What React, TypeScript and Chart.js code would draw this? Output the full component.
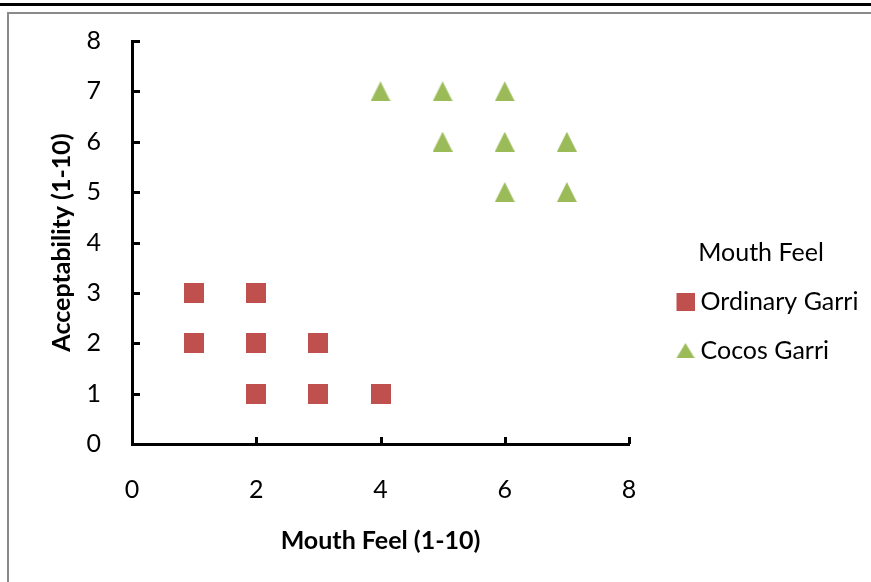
import { useEffect, useRef } from "react";
import { Chart, registerables } from "chart.js";

Chart.register(...registerables);

// Sensory scores (1-10 scale) per sample
const seriesNames = ["Ordinary Garri", "Cocos Garri"];
const ordinaryMouthFeel = [1, 2, 1, 2, 3, 2, 3, 4];
const ordinaryAcceptability = [3, 3, 2, 2, 2, 1, 1, 1];
const cocosMouthFeel = [4, 5, 6, 5, 6, 7, 6, 7];
const cocosAcceptability = [7, 7, 7, 6, 6, 6, 5, 5];

const xRange = [0, 8];
const xStep = 2;
const yRange = [0, 8];
const yStep = 1;

const xTitle = "Mouth Feel (1-10)";
const yTitle = "Acceptability (1-10)";
const legendTitle = "Mouth Feel";

const RED = "#C0504D";
const GREEN = "#9BBB59";
const FONT = "Lato, 'Open Sans', sans-serif";
const FS = 25;
const LEGEND_W = 264;

// Marker sprite: shape drawn inside a canvas, optionally shifted horizontally
function makeMarker(shape: "square" | "triangle", color: string, w: number, h: number, canvasW: number, shiftX: number) {
  const c = document.createElement("canvas");
  c.width = canvasW;
  c.height = h;
  const ctx = c.getContext("2d")!;
  ctx.fillStyle = color;
  const x0 = (canvasW - w) / 2 + shiftX;
  if (shape === "square") {
    ctx.fillRect(x0, 0, w, h);
  } else {
    ctx.beginPath();
    ctx.moveTo(x0 + w / 2, 0);
    ctx.lineTo(x0 + w, h);
    ctx.lineTo(x0, h);
    ctx.closePath();
    ctx.fill();
  }
  return c;
}

const toPoints = (xs: number[], ys: number[]) => xs.map((x, i) => ({ x, y: ys[i] }));

// Short tick marks pointing into the plot area
const inwardTicks = {
  id: "inwardTicks",
  beforeDatasetsDraw(chart: any) {
    const { ctx, chartArea, scales } = chart;
    ctx.save();
    ctx.strokeStyle = "#000";
    ctx.lineWidth = 3;
    ctx.beginPath();
    scales.y.ticks.forEach((t: any) => {
      if (t.value === yRange[0]) return;
      const py = Math.round(scales.y.getPixelForValue(t.value)) + 0.5;
      ctx.moveTo(chartArea.left, py);
      ctx.lineTo(chartArea.left + 8, py);
    });
    scales.x.ticks.forEach((t: any) => {
      if (t.value === xRange[0]) return;
      const px = Math.round(scales.x.getPixelForValue(t.value)) + 0.5;
      ctx.moveTo(px, chartArea.bottom);
      ctx.lineTo(px, chartArea.bottom - 7);
    });
    ctx.stroke();
    ctx.restore();
  },
};

// Fixed legend column width so the title sits centred over the entries
const legendWidth = {
  id: "legendWidth",
  afterInit(chart: any) {
    const lg = chart.legend;
    if (!lg) return;
    const fit = lg.fit.bind(lg);
    lg.fit = () => {
      fit();
      lg.width = LEGEND_W;
    };
  },
};

export default function App() {
  const ref = useRef<HTMLCanvasElement | null>(null);

  useEffect(() => {
    if (!ref.current) return;
    const squareMark = makeMarker("square", RED, 20, 20, 20, 0);
    const triangleMark = makeMarker("triangle", GREEN, 20, 20, 20, 0);
    const legendBox = 35;
    const legendSquare = makeMarker("square", RED, 18, 18, 48, 15);
    const legendTriangle = makeMarker("triangle", GREEN, 18, 15, 48, 15);
    const legendMarks = [legendSquare, legendTriangle];

    const chart = new Chart(ref.current, {
      type: "scatter",
      data: {
        datasets: [
          {
            label: seriesNames[0],
            data: toPoints(ordinaryMouthFeel, ordinaryAcceptability),
            pointStyle: squareMark as any,
            backgroundColor: RED,
            borderColor: RED,
          },
          {
            label: seriesNames[1],
            data: toPoints(cocosMouthFeel, cocosAcceptability),
            pointStyle: triangleMark as any,
            backgroundColor: GREEN,
            borderColor: GREEN,
          },
        ],
      },
      options: {
        responsive: false,
        animation: false,
        events: [],
        layout: { padding: { top: 41, right: 871 - 629 - LEGEND_W, bottom: 0, left: 0 } },
        plugins: {
          tooltip: { enabled: false },
          legend: {
            position: "right",
            align: "center",
            title: {
              display: true,
              text: legendTitle,
              color: "#000",
              font: { family: FONT, size: FS, lineHeight: 1 },
              padding: { top: 4, bottom: 0 },
            },
            labels: {
              usePointStyle: true,
              pointStyleWidth: legendBox,
              padding: 24,
              color: "#000",
              font: { family: FONT, size: FS },
              generateLabels: (c: any) =>
                c.data.datasets.map((ds: any, i: number) => ({
                  text: ds.label,
                  pointStyle: legendMarks[i],
                  fillStyle: ds.backgroundColor,
                  strokeStyle: ds.borderColor,
                  lineWidth: 0,
                  fontColor: "#000",
                  hidden: false,
                  datasetIndex: i,
                })),
            },
          },
        },
        scales: {
          x: {
            type: "linear",
            min: xRange[0],
            max: xRange[1],
            grid: { display: false },
            border: { display: true, color: "#000", width: 3 },
            ticks: { stepSize: xStep, padding: 23, color: "#000", font: { family: FONT, size: FS } },
            title: {
              display: true,
              text: xTitle,
              color: "#000",
              font: { family: FONT, size: FS, weight: "bold" },
              padding: { top: 0, bottom: 26 },
            },
            afterFit: (s: any) => {
              s.height = 138;
            },
          },
          y: {
            type: "linear",
            min: yRange[0],
            max: yRange[1],
            grid: { display: false },
            border: { display: true, color: "#000", width: 3 },
            ticks: { stepSize: yStep, padding: 23, color: "#000", font: { family: FONT, size: FS } },
            title: {
              display: true,
              text: yTitle,
              color: "#000",
              font: { family: FONT, size: FS, weight: "bold" },
              padding: { top: 47, bottom: 0 },
            },
            afterFit: (s: any) => {
              s.width = 132;
            },
          },
        },
      },
      plugins: [inwardTicks, legendWidth],
    });
    return () => chart.destroy();
  }, []);

  return (
    <div style={{ position: "fixed", left: 0, top: 0, width: 871, height: 582, overflow: "hidden", background: "#fff" }}>
      <div style={{ position: "absolute", left: 0, top: 3, width: 871, height: 3, background: "#000" }} />
      <div
        style={{
          position: "absolute",
          left: 7,
          top: 12,
          width: 880,
          height: 600,
          borderTop: "2px solid #8a8a8a",
          borderLeft: "2px solid #8a8a8a",
        }}
      />
      <canvas ref={ref} width={871} height={582} style={{ position: "absolute", left: 0, top: 0 }} />
    </div>
  );
}
